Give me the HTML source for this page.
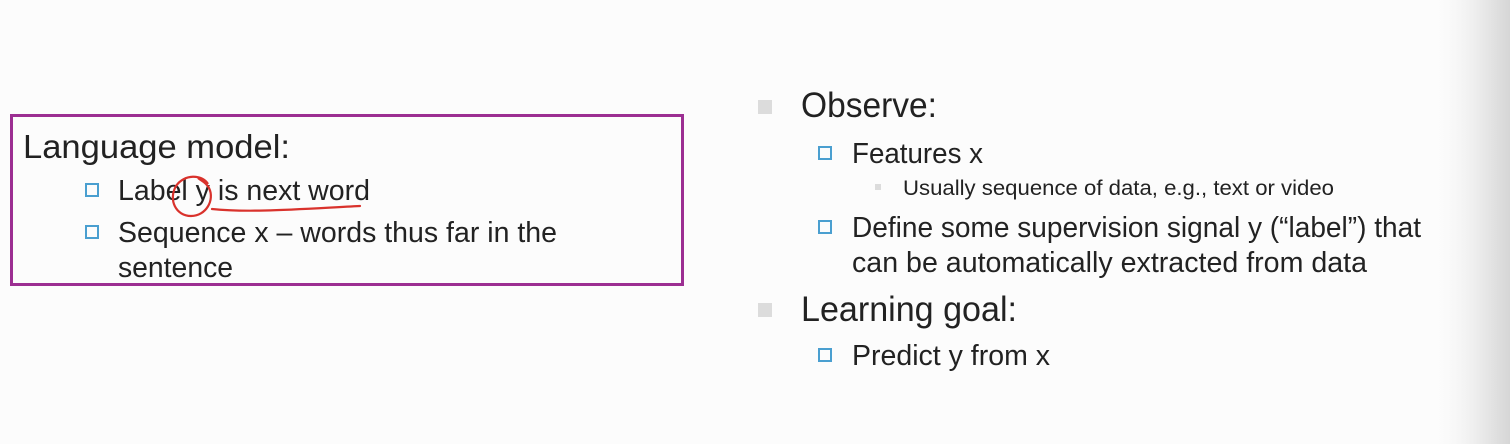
<!DOCTYPE html>
<html><head><meta charset="utf-8"><style>
html,body{margin:0;padding:0;width:1510px;height:444px;overflow:hidden;background:#fcfcfc}
svg{display:block}
text{font-family:"Liberation Sans",sans-serif;fill:#222}
</style></head><body>
<svg width="1510" height="444" viewBox="0 0 1510 444">
<defs><linearGradient id="g" x1="0" x2="1"><stop offset="0" stop-color="#fcfcfc" stop-opacity="0"/><stop offset="0.6" stop-color="#ececec"/><stop offset="1" stop-color="#d6d6d6"/></linearGradient></defs>
<rect x="1430" y="0" width="80" height="444" fill="url(#g)"/>
<rect x="11.5" y="115.5" width="671" height="169" fill="none" stroke="#9c2f92" stroke-width="3"/>
<text x="23" y="158" font-size="33" textLength="267" lengthAdjust="spacingAndGlyphs">Language model:</text>
<rect x="86" y="184" width="12" height="12" fill="none" stroke="#4a9fd0" stroke-width="2"/>
<text x="118" y="200" font-size="29" textLength="252" lengthAdjust="spacingAndGlyphs">Label y is next word</text>
<rect x="86" y="226" width="12" height="12" fill="none" stroke="#4a9fd0" stroke-width="2"/>
<text x="118" y="242" font-size="29" textLength="439" lengthAdjust="spacingAndGlyphs">Sequence x – words thus far in the</text>
<text x="118" y="277" font-size="29" textLength="115" lengthAdjust="spacingAndGlyphs">sentence</text>
<path d="M208 184 C202 174 184 174 176 186 C168 200 176 216 191 216 C206 216 215 200 209 188 C206 182 200 180 198 178" fill="none" stroke="#d9322c" stroke-width="2.2"/>
<path d="M212 209 C250 213 300 209 360 206" fill="none" stroke="#d9322c" stroke-width="2.2" stroke-linecap="round"/>
<rect x="758" y="100" width="14" height="14" fill="#dcdcdc"/>
<text x="801" y="117" font-size="35" textLength="136" lengthAdjust="spacingAndGlyphs">Observe:</text>
<rect x="819" y="147" width="12" height="12" fill="none" stroke="#4a9fd0" stroke-width="2"/>
<text x="852" y="163" font-size="29" textLength="131" lengthAdjust="spacingAndGlyphs">Features x</text>
<rect x="875" y="184" width="6" height="6" fill="#dcdcdc"/>
<text x="903" y="195" font-size="21" textLength="431" lengthAdjust="spacingAndGlyphs">Usually sequence of data, e.g., text or video</text>
<rect x="819" y="221" width="12" height="12" fill="none" stroke="#4a9fd0" stroke-width="2"/>
<text x="852" y="237" font-size="29" textLength="569" lengthAdjust="spacingAndGlyphs">Define some supervision signal y (“label”) that</text>
<text x="852" y="272" font-size="29" textLength="515" lengthAdjust="spacingAndGlyphs">can be automatically extracted from data</text>
<rect x="758" y="303" width="14" height="14" fill="#dcdcdc"/>
<text x="801" y="321" font-size="35" textLength="216" lengthAdjust="spacingAndGlyphs">Learning goal:</text>
<rect x="819" y="349" width="12" height="12" fill="none" stroke="#4a9fd0" stroke-width="2"/>
<text x="852" y="365" font-size="29" textLength="198" lengthAdjust="spacingAndGlyphs">Predict y from x</text>
</svg>
</body></html>
